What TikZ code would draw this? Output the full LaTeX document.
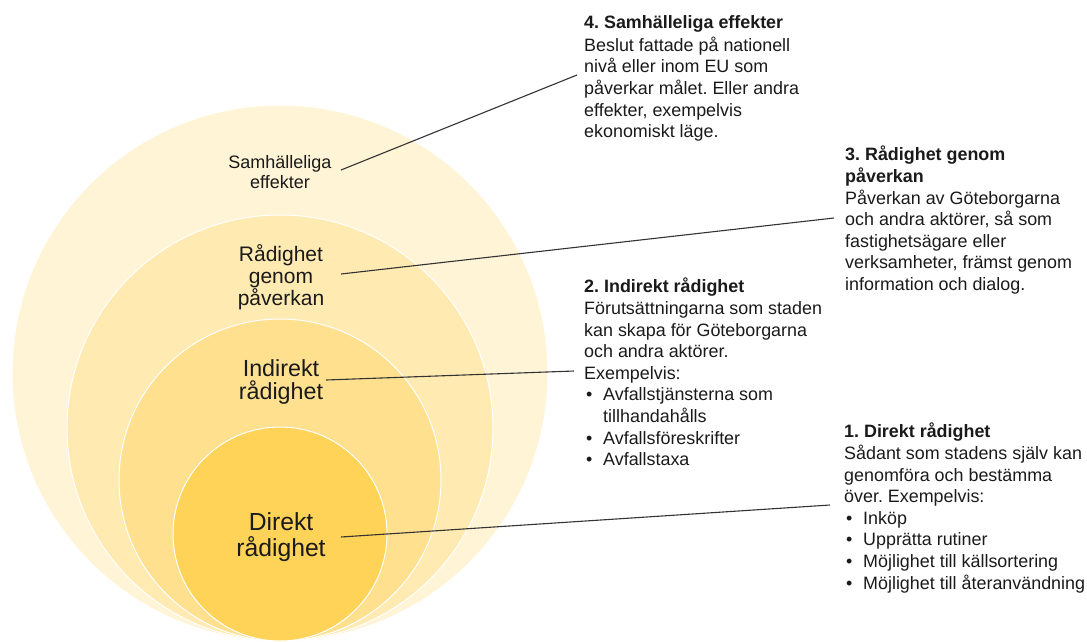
\documentclass[tikz,border=0pt]{standalone}
\usepackage{fontspec}
\setmainfont{Liberation Sans}
\usepackage{tikz}
\usetikzlibrary{positioning}
\frenchspacing

\definecolor{ringouter}{HTML}{FFF4D6}
\definecolor{ringinfl}{HTML}{FFEAB2}
\definecolor{ringind}{HTML}{FFE08F}
\definecolor{ringdir}{HTML}{FED357}
\definecolor{inktext}{HTML}{1A1A1A}

\newcommand{\bpt}[1]{\makebox[19pt][l]{\hspace{2pt}\textbullet}#1}

\begin{document}
\begin{tikzpicture}[x=1pt, y=-1pt, ring/.style={circle, draw=white, line width=1pt, inner sep=0pt}, ringtext/.style={align=center, text=inktext, inner sep=0pt}, infobox/.style={align=left, anchor=north west, text=inktext, inner sep=0pt, font=\fontsize{17.9}{21.6}\selectfont}, lead/.style={draw=black!80, line width=1.1pt}]

    \useasboundingbox (0,0) rectangle (1087,641);

    %Rings
    \node[ring, fill=ringouter, minimum size=536pt](samh) at (280,373){};
    \node[ring, fill=ringinfl, minimum size=426pt](infl) at (280,428){};
    \node[ring, fill=ringind, minimum size=322pt](ind) at (280,480){};
    \node[ring, fill=ringdir, minimum size=214pt](dir) at (280,534){};

    %Ring labels
    \node[ringtext, font=\fontsize{18}{19.5}\selectfont](samhtext) at (280,172){Samhälleliga\\effekter};
    \node[ringtext, font=\fontsize{21}{21.8}\selectfont](infltext) at (281,277){Rådighet\\genom\\påverkan};
    \node[ringtext, font=\fontsize{23.3}{23.5}\selectfont](indtext) at (281,382){Indirekt\\rådighet};
    \node[ringtext, font=\fontsize{24.7}{26}\selectfont](dirtext) at (281,537){Direkt\\rådighet};

    %Info boxes
    \node[infobox](samhinfo) at (584,15){\textbf{4. Samhälleliga effekter}\\[1.5pt]Beslut fattade på nationell\\nivå eller inom EU som\\påverkar målet. Eller andra\\effekter, exempelvis\\ekonomiskt läge.};
    \node[infobox](inflinfo) at (845,146){\textbf{3. Rådighet genom}\\\textbf{påverkan}\\Påverkan av Göteborgarna\\och andra aktörer, så som\\fastighetsägare eller\\verksamheter, främst genom\\information och dialog.};
    \node[infobox](indinfo) at (584,278){\textbf{2. Indirekt rådighet}\\Förutsättningarna som staden\\kan skapa för Göteborgarna\\och andra aktörer.\\Exempelvis:\\\bpt{Avfallstjänsterna som}\\\hspace*{19pt}tillhandahålls\\\bpt{Avfallsföreskrifter}\\\bpt{Avfallstaxa}};
    \node[infobox](dirinfo) at (844,423){\textbf{1. Direkt rådighet}\\Sådant som stadens själv kan\\genomföra och bestämma\\över. Exempelvis:\\\bpt{Inköp}\\\bpt{Upprätta rutiner}\\\bpt{Möjlighet till källsortering}\\\bpt{Möjlighet till återanvändning}};

    %Line ends
    \coordinate(samhfrom) at (341,170);
    \coordinate(samhto) at (577,75);
    \coordinate(inflfrom) at (341,274);
    \coordinate(inflto) at (834,218);
    \coordinate(indfrom) at (326,380);
    \coordinate(indto) at (574,371);
    \coordinate(dirfrom) at (341,537);
    \coordinate(dirto) at (830,505);

    %Lines
    \draw[lead] (samhfrom) -- (samhto);
    \draw[lead] (inflfrom) -- (inflto);
    \draw[lead] (indfrom) -- (indto);
    \draw[lead] (dirfrom) -- (dirto);

\end{tikzpicture}
\end{document}
